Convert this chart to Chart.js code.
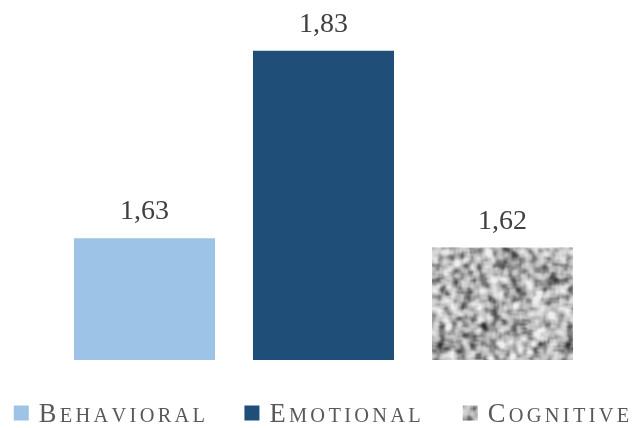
<!DOCTYPE html>
<html>
<head>
<meta charset="utf-8">
<script src="https://cdn.jsdelivr.net/npm/chart.js@4"></script>
<style>
  html, body { margin: 0; padding: 0; background: #ffffff; }
  #wrap { width: 643px; height: 428px; position: relative; }
</style>
</head>
<body>
<div id="wrap"><canvas id="c" width="643" height="428"></canvas></div>
<script>
// Mean scores per engagement dimension
const categories = ['Behavioral', 'Emotional', 'Cognitive'];
const values = [1.63, 1.83, 1.62];
const yRange = [1.5, 1.88];

// Small deterministic generator so the grain texture is identical on every load
function mulberry32(a) {
  return function () {
    a |= 0; a = a + 0x6D2B79F5 | 0;
    let t = Math.imul(a ^ a >>> 15, 1 | a);
    t = t + Math.imul(t ^ t >>> 7, 61 | t) ^ t;
    return ((t ^ t >>> 14) >>> 0) / 4294967296;
  };
}

// wrap-around 3x3 box blur keeps a tile seamless
function wrapBlur(buf, N) {
  const out = new Float32Array(N * N);
  for (let y = 0; y < N; y++) {
    for (let x = 0; x < N; x++) {
      let s = 0;
      for (let dy = -1; dy <= 1; dy++) {
        for (let dx = -1; dx <= 1; dx++) {
          s += buf[((y + dy + N) % N) * N + ((x + dx + N) % N)];
        }
      }
      out[y * N + x] = s / 9;
    }
  }
  return out;
}

// Seamless grey granite-like texture used to fill the Cognitive bar
function makeGrain() {
  const M = 64, N = 128;
  const rnd = mulberry32(20240611);
  let coarse = new Float32Array(M * M);
  for (let i = 0; i < M * M; i++) coarse[i] = rnd();
  coarse = wrapBlur(coarse, M);
  // bilinear upsample with wrap
  let buf = new Float32Array(N * N);
  for (let y = 0; y < N; y++) {
    for (let x = 0; x < N; x++) {
      const fx = x / 2, fy = y / 2;
      const x0 = Math.floor(fx), y0 = Math.floor(fy);
      const tx = fx - x0, ty = fy - y0;
      const x1 = (x0 + 1) % M, y1 = (y0 + 1) % M;
      const a = coarse[y0 * M + x0], b = coarse[y0 * M + x1];
      const c = coarse[y1 * M + x0], d = coarse[y1 * M + x1];
      buf[y * N + x] = (a * (1 - tx) + b * tx) * (1 - ty) + (c * (1 - tx) + d * tx) * ty;
    }
  }
  buf = wrapBlur(buf, N);
  let mean = 0;
  for (let i = 0; i < N * N; i++) mean += buf[i];
  mean /= N * N;
  let varSum = 0;
  for (let i = 0; i < N * N; i++) varSum += (buf[i] - mean) ** 2;
  const sd = Math.sqrt(varSum / (N * N));
  const tile = document.createElement('canvas');
  tile.width = N; tile.height = N;
  const tctx = tile.getContext('2d');
  const img = tctx.createImageData(N, N);
  for (let i = 0; i < N * N; i++) {
    const z = (buf[i] - mean) / sd;
    let g = z > 0 ? 182 + z * 26 : 182 + z * 42;
    g = Math.max(50, Math.min(238, g));
    img.data[i * 4] = g; img.data[i * 4 + 1] = g; img.data[i * 4 + 2] = g; img.data[i * 4 + 3] = 255;
  }
  tctx.putImageData(img, 0, 0);
  return tctx.createPattern(tile, 'repeat');
}

const canvas = document.getElementById('c');
const grain = makeGrain();
const barColors = ['#9DC3E6', '#1F4E79', grain];

const fmt = v => v.toFixed(2).replace('.', ',');

// Value labels above each bar
const valueLabels = {
  id: 'valueLabels',
  afterDatasetsDraw(chart) {
    const ctx = chart.ctx;
    const meta = chart.getDatasetMeta(0);
    ctx.save();
    ctx.font = "28px 'Liberation Serif', serif";
    ctx.fillStyle = '#404040';
    ctx.textAlign = 'center';
    ctx.textBaseline = 'alphabetic';
    meta.data.forEach((bar, i) => {
      ctx.fillText(fmt(chart.data.datasets[0].data[i]), bar.x, bar.y - 19);
    });
    ctx.restore();
  }
};

// Small-caps text: first letter full size, the rest as reduced capitals
const capFont = "26.5px 'Liberation Serif', serif";
const smallFont = "20.4px 'Liberation Serif', serif";
const tracking = 3.3;

function capsParts(label) {
  return [[label.charAt(0).toUpperCase(), capFont], [label.slice(1).toUpperCase(), smallFont]];
}
function measureCaps(ctx, label) {
  let w = 0;
  capsParts(label).forEach(([t, f]) => {
    ctx.font = f;
    w += ctx.measureText(t).width + tracking * t.length;
  });
  return w - tracking;
}
function drawCaps(ctx, label, x, y) {
  capsParts(label).forEach(([t, f]) => {
    ctx.font = f;
    for (const ch of t) {
      ctx.fillText(ch, x, y);
      x += ctx.measureText(ch).width + tracking;
    }
  });
}

// Legend row below the plot
const capsLegend = {
  id: 'capsLegend',
  afterDraw(chart) {
    const ctx = chart.ctx;
    const box = 15, gapText = 10, gapItem = 42;
    ctx.save();
    const widths = chart.data.labels.map(l => measureCaps(ctx, l));
    const total = widths.reduce((s, w) => s + box + gapText + w, 0) + gapItem * (widths.length - 1);
    let x = chart.width / 2 - total / 2;
    const cy = chart.chartArea.bottom + 53;
    ctx.textAlign = 'left';
    ctx.textBaseline = 'alphabetic';
    chart.data.labels.forEach((label, i) => {
      ctx.fillStyle = barColors[i];
      ctx.fillRect(x, cy - box / 2, box, box);
      x += box + gapText;
      ctx.fillStyle = '#595959';
      drawCaps(ctx, label, x, cy + 8.5);
      x += widths[i] + gapItem;
    });
    ctx.restore();
  }
};

new Chart(canvas, {
  type: 'bar',
  data: {
    labels: categories,
    datasets: [{
      data: values,
      backgroundColor: barColors,
      borderWidth: 0,
      categoryPercentage: 1,
      barPercentage: 0.788
    }]
  },
  options: {
    responsive: false,
    animation: false,
    layout: { padding: { left: 55, right: 51, top: 4, bottom: 68 } },
    plugins: {
      legend: { display: false },
      tooltip: { enabled: false }
    },
    scales: {
      x: { display: false },
      y: { display: false, min: yRange[0], max: yRange[1] }
    }
  },
  plugins: [valueLabels, capsLegend]
});
</script>
</body>
</html>
